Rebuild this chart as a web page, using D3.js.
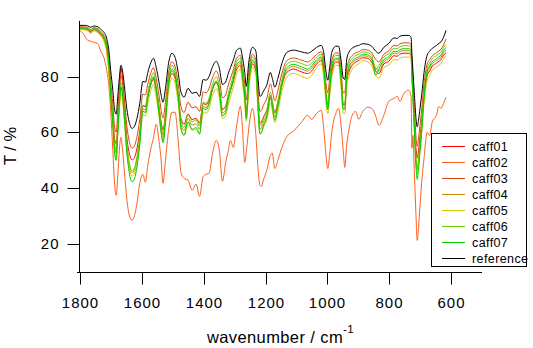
<!DOCTYPE html>
<html>
<head>
<meta charset="utf-8">
<script src="https://cdn.jsdelivr.net/npm/d3@7/dist/d3.min.js"></script>
<style>
  html, body { margin: 0; padding: 0; background: #fff; }
  svg { display: block; font-family: "Liberation Sans", Arial, sans-serif; }
</style>
</head>
<body>
<svg id="chart" width="533" height="348"></svg>
<script>
// IR transmittance spectra, wavenumber in cm^-1, T in %
const wavenumber = [1800,1787,1774,1764,1755,1742,1732,1722,1713,1706,
  1700,1693,1687,1682,1677,1672,1667,1662,1656,1648,
  1640,1631,1623,1615,1606,1596,1588,1580,1570,1562,
  1553,1544,1537,1531,1523,1513,1502,1492,1482,1473,
  1463,1450,1437,1424,1413,1401,1392,1382,1372,1359,
  1349,1339,1329,1320,1313,1304,1293,1281,1275,1267,
  1262,1254,1242,1231,1225,1218,1213,1207,1196,1184,
  1178,1170,1160,1147,1131,1110,1084,1064,1051,1035,
  1020,1012,1006,999,993,986,973,964,956,949,
  944,938,931,920,909,899,886,870,857,844,
  834,818,802,785,774,766,753,737,730,727,
  724,719,714,710,706,701,695,688,678,670,
  661,648,640,633,625,617];

const caff01 = [97.1,97.1,96.8,95.9,96.8,96.2,95.0,93.3,89.6,82.7,
  74.1,65.8,57.5,55.9,63.3,74.0,83.0,79.5,70.0,58.3,
  52.6,50.1,51.0,54.2,60.4,69.5,69.2,73.2,77.3,79.0,
  75.2,69.2,63.7,60.9,66.6,77.0,81.1,79.4,73.2,65.0,
  62.9,66.6,64.6,65.0,63.3,70.3,70.0,71.6,75.2,77.8,
  74.9,68.2,69.2,72.8,75.2,78.2,82.7,84.0,79.8,73.2,
  67.4,77.3,84.5,82.0,72.0,63.3,63.7,65.4,67.9,73.2,
  70.8,67.1,70.8,77.0,81.5,82.7,81.7,81.1,82.0,84.5,
  85.8,81.5,74.9,70.0,74.9,81.5,85.2,85.2,78.2,70.0,
  70.0,78.2,81.5,84.0,85.2,85.8,86.8,86.5,85.2,82.0,
  81.1,84.5,85.5,87.5,87.3,88.1,88.4,88.4,87.7,80.3,
  74.1,63.7,54.2,50.8,53.4,58.3,64.6,73.2,80.3,82.0,
  83.8,84.8,85.5,86.1,87.7,88.5];

const caff02 = [96.6,95.2,93.0,92.7,92.3,91.9,89.1,86.9,82.3,76.9,
  67.9,53.5,41.0,37.4,44.6,53.5,58.2,54.3,46.4,36.3,
  30.2,28.4,30.2,34.5,41.7,44.9,42.1,48.2,54.3,57.9,
  62.9,57.1,50.0,41.7,50.0,60.7,67.2,67.2,57.1,45.6,
  43.5,42.8,39.2,41.4,37.0,44.2,44.9,45.3,51.8,57.1,
  53.5,42.4,48.9,53.5,57.1,54.6,62.5,69.3,62.5,49.2,
  53.0,61.4,68.6,58.9,48.2,41.0,40.6,42.8,46.4,51.8,
  52.5,47.0,50.0,54.6,58.5,60.4,63.6,66.1,64.7,66.8,
  67.9,61.4,53.5,47.0,51.8,60.0,66.8,68.6,62.5,53.5,
  47.4,55.3,60.7,66.1,67.5,64.7,67.5,69.0,68.6,65.8,
  62.5,66.1,71.1,72.2,72.9,71.1,74.0,75.1,72.9,54.3,
  58.9,44.6,30.2,21.2,25.5,33.8,42.8,50.7,60.0,58.9,
  64.0,66.1,69.3,68.6,70.4,72.6];

const caff03 = [97.9,97.9,97.6,96.9,97.6,97.2,96.2,94.8,92.1,86.7,
  78.3,70.0,61.7,60.1,67.5,75.0,80.4,78.3,72.1,62.5,
  56.8,54.3,55.2,58.4,64.6,73.7,73.4,77.4,81.5,83.2,
  79.4,73.4,67.9,65.1,70.8,81.2,85.3,83.6,77.4,69.2,
  67.1,70.8,68.8,69.2,67.5,74.5,74.2,75.8,79.4,82.0,
  79.1,72.4,73.4,77.0,79.4,82.4,86.7,87.6,84.0,77.4,
  71.6,81.5,88.0,86.1,76.2,67.5,67.9,69.6,72.1,77.4,
  75.0,71.3,75.0,81.2,85.7,86.7,85.9,85.3,86.1,88.0,
  88.9,85.7,79.1,74.2,79.1,85.7,88.5,88.5,82.4,74.2,
  74.2,82.4,85.7,87.6,88.5,88.9,89.7,89.5,88.5,86.1,
  85.3,88.0,89.2,91.2,91.0,91.8,92.1,92.1,91.4,84.5,
  78.3,67.9,58.4,55.0,57.6,62.5,68.8,77.4,84.5,86.1,
  87.5,88.5,89.2,89.8,91.4,93.5];

const caff04 = [97.3,97.3,97.0,96.1,97.0,96.5,95.3,93.7,90.2,83.6,
  73.8,64.0,54.3,52.4,61.1,69.8,76.2,73.8,66.5,55.3,
  48.5,45.5,46.6,50.4,57.7,68.4,68.0,72.7,77.5,79.6,
  75.1,68.0,61.6,58.2,65.0,77.1,82.0,80.0,72.7,63.1,
  60.7,65.0,62.6,63.1,61.1,69.3,68.9,70.8,75.1,78.1,
  74.7,66.9,68.0,72.3,75.1,78.6,83.6,84.8,80.5,72.7,
  65.9,77.5,85.3,83.0,71.3,61.1,61.6,63.5,66.5,72.7,
  69.8,65.5,69.8,77.1,82.4,83.6,82.7,82.0,83.0,85.3,
  86.5,82.4,74.7,68.9,74.7,82.4,86.0,86.0,78.6,68.9,
  68.9,78.6,82.4,84.8,86.0,86.5,87.5,87.2,86.0,83.0,
  82.0,85.3,86.4,88.4,88.2,89.0,89.3,89.3,88.6,81.0,
  73.8,61.6,50.4,46.4,49.5,55.3,62.6,72.7,81.0,83.0,
  84.7,85.7,86.4,87.0,88.6,89.5];

const caff05 = [96.8,96.8,96.4,95.5,96.4,95.9,94.6,92.8,88.7,81.2,
  71.5,62.1,52.8,50.9,59.3,67.7,73.8,71.5,64.5,53.7,
  47.2,44.3,45.4,49.0,56.0,66.3,65.9,70.5,75.1,77.1,
  72.8,65.9,59.8,56.5,63.0,74.7,79.4,77.5,70.5,61.2,
  58.9,63.0,60.7,61.2,59.3,67.2,66.8,68.6,72.8,75.7,
  72.4,64.9,65.9,70.1,72.8,76.2,81.2,82.6,78.0,70.5,
  64.0,75.1,83.2,80.4,69.2,59.3,59.8,61.6,64.5,70.5,
  67.7,63.6,67.7,74.7,79.8,81.2,80.1,79.4,80.4,83.2,
  84.6,79.8,72.4,66.8,72.4,79.8,84.0,84.0,76.2,66.8,
  66.8,76.2,79.8,82.6,84.0,84.6,85.7,85.3,84.0,80.4,
  79.4,83.2,84.1,86.1,85.9,86.7,87.0,87.0,86.3,78.5,
  71.5,59.8,49.0,45.1,48.1,53.7,60.7,70.5,78.5,80.4,
  82.4,83.4,84.1,84.7,86.3,87.5];

const caff06 = [97.6,97.6,97.4,96.6,97.4,96.9,95.8,94.4,91.4,85.5,
  75.4,65.3,55.3,53.3,62.3,71.4,77.9,75.4,67.9,56.2,
  49.2,46.2,47.3,51.2,58.8,69.8,69.4,74.3,79.3,81.4,
  76.8,69.4,62.8,59.3,66.3,78.9,84.0,81.9,74.3,64.4,
  61.8,66.3,63.8,64.4,62.3,70.8,70.4,72.3,76.8,79.9,
  76.4,68.3,69.4,73.9,76.8,80.5,85.5,86.6,82.4,74.3,
  67.3,79.3,87.0,84.9,72.9,62.3,62.8,64.8,67.9,74.3,
  71.4,66.9,71.4,78.9,84.4,85.5,84.7,84.0,84.9,87.0,
  88.0,84.4,76.4,70.4,76.4,84.4,87.6,87.6,80.5,70.4,
  70.4,80.5,84.4,86.6,87.6,88.0,88.9,88.6,87.6,82.5,
  84.0,87.0,88.2,90.2,90.0,90.8,91.1,91.1,90.4,83.0,
  75.4,62.8,51.2,47.0,50.2,56.2,63.8,74.3,83.0,84.9,
  86.5,87.5,88.2,88.8,90.4,91.5];

const caff07 = [97.4,97.4,97.1,96.3,97.1,96.6,95.5,94.0,90.7,84.4,
  73.6,62.8,52.0,49.9,59.5,69.2,76.3,73.6,65.5,53.0,
  45.5,42.2,43.4,47.6,55.7,67.6,67.1,72.4,77.8,80.0,
  75.1,67.1,60.1,56.3,63.8,77.3,82.7,80.5,72.4,61.7,
  59.0,63.8,61.1,61.7,59.5,68.6,68.2,70.3,75.1,78.4,
  74.6,65.9,67.1,71.9,75.1,79.0,84.4,85.5,81.1,72.4,
  64.9,77.8,86.0,83.8,70.9,59.5,60.1,62.2,65.5,72.4,
  69.2,64.4,69.2,77.3,83.2,84.4,83.5,82.7,83.8,86.0,
  87.1,83.2,74.6,68.2,74.6,83.2,86.6,86.6,79.0,68.2,
  68.2,79.0,83.2,85.5,86.6,87.1,88.1,87.8,86.6,80.5,
  82.7,86.0,87.1,89.1,88.9,89.7,90.0,90.0,89.3,81.7,
  73.6,60.1,47.6,43.1,46.6,53.0,61.1,72.4,81.7,83.8,
  85.4,86.4,87.1,87.7,89.3,90.5];

const reference = [98.4,98.4,98.2,97.7,98.2,97.9,97.0,95.9,93.8,89.5,
  82.3,75.1,67.9,66.5,72.9,79.4,84.1,82.3,76.9,68.6,
  63.6,61.4,62.2,65.0,70.4,78.3,78.0,81.5,85.1,86.6,
  83.3,78.0,73.3,70.8,75.8,84.8,88.4,86.9,81.5,74.4,
  72.6,75.8,74.0,74.4,72.9,79.0,78.7,80.1,83.3,85.5,
  83.0,77.2,78.0,81.2,83.3,85.9,89.5,90.2,87.3,81.5,
  76.5,85.1,90.5,89.1,80.5,72.9,73.3,74.7,76.9,81.5,
  79.4,76.2,79.4,84.8,88.7,89.5,88.9,88.4,89.1,90.5,
  91.2,88.7,83.0,78.7,83.0,88.7,90.9,90.9,85.9,79.5,
  79.0,85.9,88.7,90.2,90.9,91.2,91.8,91.6,90.9,89.1,
  88.4,90.5,91.9,93.9,93.7,94.5,94.8,94.8,94.1,87.7,
  82.3,73.3,65.0,62.0,64.3,68.6,74.0,81.5,87.7,89.1,
  90.2,91.2,91.9,92.5,94.1,96.6];

const seriesNames = ["caff01","caff02","caff03","caff04","caff05","caff06","caff07","reference"];
const seriesValues = [caff01, caff02, caff03, caff04, caff05, caff06, caff07, reference];
const seriesColors = ["#ff0000","#ff5f1f","#d8480a","#cc8800","#d2c800","#66cc00","#00cc00","#000000"];

const xTicks = [1800, 1600, 1400, 1200, 1000, 800, 600];
const yTicks = [20, 40, 60, 80];

const svg = d3.select("#chart");

const x = d3.scaleLinear().domain([1800, 600]).range([79.7, 451.3]);
const y = d3.scaleLinear().domain([10, 100]).range([271.6, 20.9]);

// spectra
const line = d3.line()
  .x((d, i) => x(wavenumber[i]))
  .y(d => y(d))
  .curve(d3.curveMonotoneX);

svg.append("g")
  .selectAll("path")
  .data(seriesValues)
  .join("path")
  .attr("d", d => line(d))
  .attr("fill", "none")
  .attr("stroke", (d, i) => seriesColors[i])
  .attr("stroke-width", 1)
  .attr("stroke-linejoin", "round");

const fontFamily = '"Liberation Sans", Arial, sans-serif';

// axes
const xAxis = svg.append("g")
  .attr("transform", "translate(0,272.5)")
  .call(d3.axisBottom(x).tickValues(xTicks).tickSize(12).tickSizeOuter(0).tickFormat(d3.format("d")));
xAxis.select(".domain").remove();
xAxis.selectAll(".tick").attr("transform", d => `translate(${Math.round(x(d)) + 0.5},0)`);
xAxis.selectAll(".tick line").attr("stroke", "#000");
xAxis.selectAll("text")
  .attr("y", 35.2).attr("dy", null)
  .attr("fill", "#000")
  .style("font-size", "15px")
  .style("letter-spacing", "1px")
  .style("font-family", fontFamily);
xAxis.append("line")
  .attr("x1", 77).attr("x2", 482).attr("y1", 0).attr("y2", 0)
  .attr("stroke", "#000");

const yAxis = svg.append("g")
  .attr("transform", "translate(79.5,0)")
  .call(d3.axisLeft(y).tickValues(yTicks).tickSize(12).tickSizeOuter(0).tickPadding(8));
yAxis.select(".domain").remove();
yAxis.selectAll(".tick").attr("transform", d => `translate(0,${Math.round(y(d)) + 0.5})`);
yAxis.selectAll(".tick line").attr("stroke", "#000");
yAxis.selectAll("text")
  .attr("fill", "#000")
  .style("font-size", "15px")
  .style("letter-spacing", "1px")
  .style("font-family", fontFamily);
yAxis.append("line")
  .attr("x1", 0).attr("x2", 0).attr("y1", 20.9).attr("y2", 272.5)
  .attr("stroke", "#000");

// axis titles
const xTitle = svg.append("text")
  .attr("x", 280.5).attr("y", 343)
  .attr("text-anchor", "middle")
  .style("font-size", "16.5px")
  .style("letter-spacing", "0.4px");
xTitle.append("tspan").text("wavenumber / cm");
xTitle.append("tspan").attr("dy", -10).style("font-size", "11.5px").text("-1");

svg.append("text")
  .attr("transform", "translate(16,146) rotate(-90)")
  .attr("text-anchor", "middle")
  .style("font-size", "16.5px")
  .text("T / %");

// legend
const legend = svg.append("g");
legend.append("rect")
  .attr("x", 431.5).attr("y", 133.5).attr("width", 95).attr("height", 133)
  .attr("fill", "#fff").attr("stroke", "#000");
const rows = legend.selectAll("g.row")
  .data(seriesNames)
  .join("g")
  .attr("class", "row")
  .attr("transform", (d, i) => `translate(0,${Math.round(145.7 + i * 16.1) + 0.5})`);
rows.append("line")
  .attr("x1", 442).attr("x2", 465)
  .attr("stroke", (d, i) => seriesColors[i]);
rows.append("text")
  .attr("x", 472).attr("dy", "0.35em")
  .style("font-size", "12.5px")
  .style("letter-spacing", "0.4px")
  .text(d => d);
</script>
</body>
</html>
